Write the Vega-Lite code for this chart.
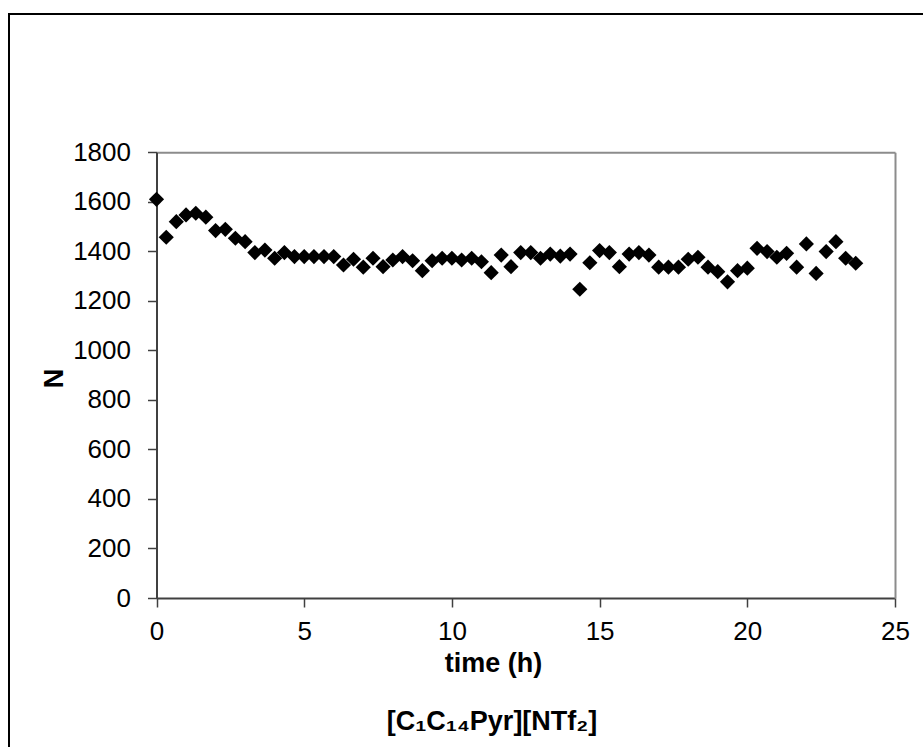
{
  "$schema": "https://vega.github.io/schema/vega-lite/v6.json",
  "width": 916,
  "height": 735,
  "autosize": {"type": "none"},
  "padding": {"left": 9, "top": 14, "right": 0, "bottom": 0},
  "background": "white",
  "config": {
    "font": "Liberation Sans",
    "view": {"stroke": "black", "strokeWidth": 2}
  },
  "title": {
    "text": "[C₁C₁₄Pyr][NTf₂]",
    "orient": "bottom",
    "frame": "group",
    "anchor": "middle",
    "offset": -40,
    "dx": 25,
    "font": "Liberation Sans",
    "fontSize": 27,
    "fontWeight": "bold",
    "color": "black"
  },
  "data": {
    "values": [
      {"time": 0, "N": 1610}, {"time": 0.33, "N": 1457}, {"time": 0.67, "N": 1520}, {"time": 1.0, "N": 1547},
      {"time": 1.33, "N": 1554}, {"time": 1.67, "N": 1538}, {"time": 2.0, "N": 1484}, {"time": 2.33, "N": 1489},
      {"time": 2.67, "N": 1453}, {"time": 3.0, "N": 1439}, {"time": 3.33, "N": 1395}, {"time": 3.67, "N": 1405},
      {"time": 4.0, "N": 1372}, {"time": 4.33, "N": 1395}, {"time": 4.67, "N": 1379}, {"time": 5.0, "N": 1379},
      {"time": 5.33, "N": 1379}, {"time": 5.67, "N": 1379}, {"time": 6.0, "N": 1379}, {"time": 6.33, "N": 1345},
      {"time": 6.67, "N": 1368}, {"time": 7.0, "N": 1336}, {"time": 7.33, "N": 1372}, {"time": 7.67, "N": 1338},
      {"time": 8.0, "N": 1365}, {"time": 8.33, "N": 1379}, {"time": 8.67, "N": 1362}, {"time": 9.0, "N": 1322},
      {"time": 9.33, "N": 1362}, {"time": 9.67, "N": 1372}, {"time": 10.0, "N": 1372}, {"time": 10.33, "N": 1365},
      {"time": 10.67, "N": 1372}, {"time": 11.0, "N": 1358}, {"time": 11.33, "N": 1314}, {"time": 11.67, "N": 1385},
      {"time": 12.0, "N": 1338}, {"time": 12.33, "N": 1395}, {"time": 12.67, "N": 1395}, {"time": 13.0, "N": 1372},
      {"time": 13.33, "N": 1389}, {"time": 13.67, "N": 1381}, {"time": 14.0, "N": 1389}, {"time": 14.33, "N": 1247},
      {"time": 14.67, "N": 1354}, {"time": 15.0, "N": 1403}, {"time": 15.33, "N": 1395}, {"time": 15.67, "N": 1338},
      {"time": 16.0, "N": 1389}, {"time": 16.33, "N": 1395}, {"time": 16.67, "N": 1385}, {"time": 17.0, "N": 1336},
      {"time": 17.33, "N": 1336}, {"time": 17.67, "N": 1336}, {"time": 18.0, "N": 1368}, {"time": 18.33, "N": 1376},
      {"time": 18.67, "N": 1336}, {"time": 19.0, "N": 1318}, {"time": 19.33, "N": 1277}, {"time": 19.67, "N": 1322},
      {"time": 20.0, "N": 1332}, {"time": 20.33, "N": 1412}, {"time": 20.67, "N": 1399}, {"time": 21.0, "N": 1376},
      {"time": 21.33, "N": 1392}, {"time": 21.67, "N": 1336}, {"time": 22.0, "N": 1430}, {"time": 22.33, "N": 1311},
      {"time": 22.67, "N": 1399}, {"time": 23.0, "N": 1439}, {"time": 23.33, "N": 1372}, {"time": 23.67, "N": 1352}
    ]
  },
  "layer": [
    {
      "mark": {"type": "point", "shape": "diamond", "filled": true, "color": "black", "size": 230, "opacity": 1},
      "encoding": {
        "x": {
          "field": "time", "type": "quantitative",
          "scale": {"domain": [0, 25], "range": [147.5, 886], "nice": false, "zero": false},
          "axis": {
            "orient": "bottom", "offset": -151,
            "values": [0, 5, 10, 15, 20, 25],
            "format": "d",
            "grid": false,
            "domainColor": "#404040", "domainWidth": 2,
            "tickColor": "#404040", "tickWidth": 1.5, "tickSize": 9,
            "labelFont": "Liberation Sans", "labelFontSize": 26, "labelColor": "black",
            "labelPadding": 11, "labelFlush": false, "labelOverlap": false,
            "title": "time (h)",
            "titleFont": "Liberation Sans", "titleFontSize": 27, "titleFontWeight": "bold", "titleColor": "black",
            "titleX": 484, "titleY": 65, "titleAlign": "center", "titleBaseline": "middle", "titleAnchor": null
          }
        },
        "y": {
          "field": "N", "type": "quantitative",
          "scale": {"domain": [0, 1800], "range": [584, 138.3], "nice": false, "zero": false},
          "axis": {
            "orient": "left", "offset": -147.5,
            "values": [0, 200, 400, 600, 800, 1000, 1200, 1400, 1600, 1800],
            "format": "d",
            "grid": false,
            "domainColor": "#404040", "domainWidth": 2,
            "tickColor": "#404040", "tickWidth": 1.5, "tickSize": 9,
            "labelFont": "Liberation Sans", "labelFontSize": 26, "labelColor": "black",
            "labelPadding": 17, "labelFlush": false, "labelOverlap": false,
            "title": "N",
            "titleFont": "Liberation Sans", "titleFontSize": 27, "titleFontWeight": "bold", "titleColor": "black",
            "titleX": -102.5, "titleY": 364, "titleAngle": -90, "titleAlign": "center", "titleBaseline": "middle", "titleAnchor": null
          }
        }
      }
    },
    {
      "mark": {"type": "point", "opacity": 0},
      "encoding": {
        "x": {
          "field": "time", "type": "quantitative",
          "axis": {"orient": "top", "offset": -138.3, "domainColor": "#8c8c8c", "domainWidth": 2, "ticks": false, "labels": false, "grid": false, "title": null}
        },
        "y": {
          "field": "N", "type": "quantitative",
          "axis": {"orient": "right", "offset": -30, "domainColor": "#8c8c8c", "domainWidth": 2, "ticks": false, "labels": false, "grid": false, "title": null}
        }
      }
    }
  ],
  "resolve": {"axis": {"x": "independent", "y": "independent"}}
}
